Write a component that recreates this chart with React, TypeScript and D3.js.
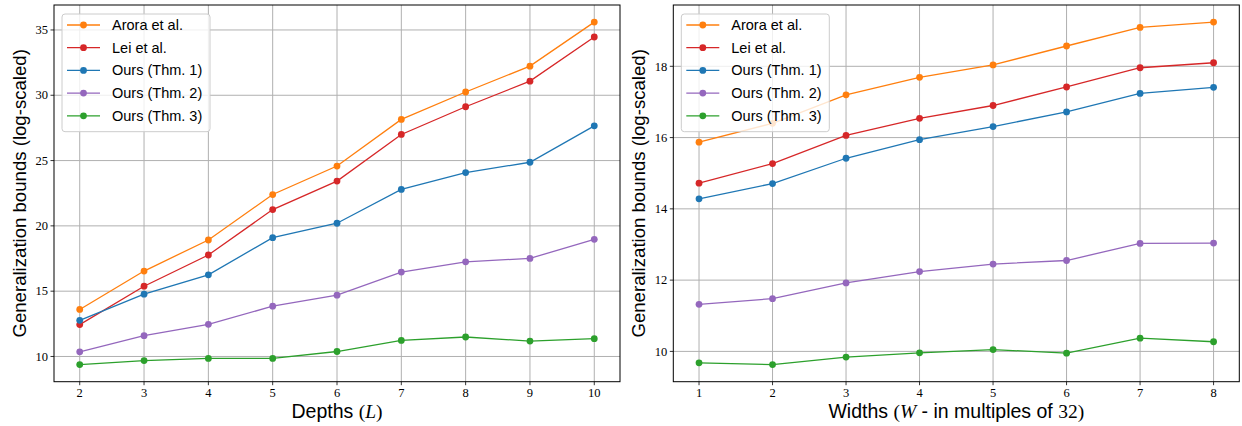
import React from "react";
import * as d3 from "d3";

const depths = [2, 3, 4, 5, 6, 7, 8, 9, 10];
const widths = [1, 2, 3, 4, 5, 6, 7, 8];

const seriesNames = ["Arora et al.", "Lei et al.", "Ours (Thm. 1)", "Ours (Thm. 2)", "Ours (Thm. 3)"];
const seriesColors = ["#ff7f0e", "#d62728", "#1f77b4", "#9467bd", "#2ca02c"];

const depthArora = [13.6, 16.54, 18.92, 22.4, 24.58, 28.15, 30.25, 32.23, 35.6];
const depthLei = [12.44, 15.38, 17.77, 21.25, 23.43, 27.0, 29.12, 31.08, 34.46];
const depthThm1 = [12.77, 14.77, 16.25, 19.1, 20.2, 22.79, 24.08, 24.87, 27.66];
const depthThm2 = [10.36, 11.59, 12.46, 13.85, 14.69, 16.46, 17.25, 17.51, 18.97];
const depthThm3 = [9.38, 9.69, 9.85, 9.85, 10.38, 11.23, 11.49, 11.18, 11.36];

const widthArora = [15.87, 16.4, 17.2, 17.69, 18.04, 18.57, 19.09, 19.24];
const widthLei = [14.72, 15.27, 16.06, 16.54, 16.9, 17.42, 17.96, 18.1];
const widthThm1 = [14.28, 14.71, 15.42, 15.94, 16.31, 16.72, 17.24, 17.41];
const widthThm2 = [11.32, 11.48, 11.92, 12.24, 12.45, 12.55, 13.03, 13.04];
const widthThm3 = [9.68, 9.63, 9.84, 9.96, 10.05, 9.95, 10.37, 10.27];

const depthYTicks = [10, 15, 20, 25, 30, 35];
const widthYTicks = [10, 12, 14, 16, 18];

const SANS = "'Liberation Sans', Arial, sans-serif";
const SERIF = "'Liberation Serif', 'DejaVu Serif', serif";

type PanelProps = {
  x0: number;
  x1: number;
  y0: number;
  y1: number;
  xs: number[];
  series: number[][];
  yTicks: number[];
  xLabel: React.ReactNode;
  yLabelX: number;
};

function padExtent(vals: number[]): [number, number] {
  const [mn, mx] = d3.extent(vals) as [number, number];
  const p = (mx - mn) * 0.05;
  return [mn - p, mx + p];
}

function Panel({ x0, x1, y0, y1, xs, series, yTicks, xLabel, yLabelX }: PanelProps) {
  const x = d3.scaleLinear().domain(padExtent(xs)).range([x0, x1]);
  const y = d3.scaleLinear().domain(padExtent(series.flat())).range([y1, y0]);
  const line = d3
    .line<number>()
    .x((_, i) => x(xs[i]))
    .y((v) => y(v));
  const cx = (x0 + x1) / 2;
  const cy = (y0 + y1) / 2;
  const lx = x0 + 8;
  const ly = y0 + 9;
  const rowH = 22.7;
  return (
    <g>
      {xs.map((t) => (
        <line key={"gx" + t} x1={x(t)} x2={x(t)} y1={y0} y2={y1} stroke="#b0b0b0" strokeWidth={1} />
      ))}
      {yTicks.map((t) => (
        <line key={"gy" + t} x1={x0} x2={x1} y1={y(t)} y2={y(t)} stroke="#b0b0b0" strokeWidth={1} />
      ))}
      {series.map((s, si) => (
        <g key={"s" + si}>
          <path d={line(s) || ""} fill="none" stroke={seriesColors[si]} strokeWidth={1.3} />
          {s.map((v, i) => (
            <circle key={i} cx={x(xs[i])} cy={y(v)} r={3.4} fill={seriesColors[si]} />
          ))}
        </g>
      ))}
      <rect x={x0} y={y0} width={x1 - x0} height={y1 - y0} fill="none" stroke="#000" strokeWidth={1} />
      {xs.map((t) => (
        <g key={"tx" + t}>
          <line x1={x(t)} x2={x(t)} y1={y1} y2={y1 + 3.5} stroke="#000" strokeWidth={0.8} />
          <text x={x(t)} y={y1 + 15.5} textAnchor="middle" fontFamily={SERIF} fontSize={12.5} fill="#000">
            {t}
          </text>
        </g>
      ))}
      {yTicks.map((t) => (
        <g key={"ty" + t}>
          <line x1={x0 - 3.5} x2={x0} y1={y(t)} y2={y(t)} stroke="#000" strokeWidth={0.8} />
          <text x={x0 - 6} y={y(t) + 4.2} textAnchor="end" fontFamily={SERIF} fontSize={12.5} fill="#000">
            {t}
          </text>
        </g>
      ))}
      <text x={cx} y={y1 + 36} textAnchor="middle" fontFamily={SANS} fontSize={19.5} fill="#000">
        {xLabel}
      </text>
      <text
        transform={`translate(${yLabelX},${cy}) rotate(-90)`}
        textAnchor="middle"
        dominantBaseline="central"
        fontFamily={SANS}
        fontSize={18.6}
        fill="#000"
      >
        Generalization bounds (log-scaled)
      </text>
      <rect x={lx} y={ly} width={148} height={117.7} rx={3} fill="#fff" fillOpacity={0.8} stroke="#cccccc" strokeWidth={1} />
      {seriesNames.map((n, i) => {
        const ry = ly + 11 + i * rowH;
        return (
          <g key={n}>
            <line x1={lx + 5} x2={lx + 38} y1={ry} y2={ry} stroke={seriesColors[i]} strokeWidth={1.3} />
            <circle cx={lx + 21.5} cy={ry} r={3.4} fill={seriesColors[i]} />
            <text x={lx + 50} y={ry + 5} fontFamily={SANS} fontSize={14.5} fill="#000">
              {n}
            </text>
          </g>
        );
      })}
    </g>
  );
}

export default function App() {
  return (
    <svg
      width={1242}
      height={426}
      style={{ position: "absolute", left: 0, top: 0, background: "#fff" }}
    >
      <rect width={1242} height={426} fill="#fff" />
      <Panel
        x0={54}
        x1={620}
        y0={5}
        y1={381.7}
        xs={depths}
        series={[depthArora, depthLei, depthThm1, depthThm2, depthThm3]}
        yTicks={depthYTicks}
        yLabelX={19.5}
        xLabel={
          <>
            <tspan>Depths </tspan>
            <tspan fontFamily={SERIF}>(</tspan>
            <tspan fontFamily={SERIF} fontStyle="italic">L</tspan>
            <tspan fontFamily={SERIF}>)</tspan>
          </>
        }
      />
      <Panel
        x0={673.3}
        x1={1239.3}
        y0={5}
        y1={381.7}
        xs={widths}
        series={[widthArora, widthLei, widthThm1, widthThm2, widthThm3]}
        yTicks={widthYTicks}
        yLabelX={638}
        xLabel={
          <>
            <tspan>Widths </tspan>
            <tspan fontFamily={SERIF}>(</tspan>
            <tspan fontFamily={SERIF} fontStyle="italic">W</tspan>
            <tspan> - in multiples of </tspan>
            <tspan fontFamily={SERIF}>32)</tspan>
          </>
        }
      />
    </svg>
  );
}
